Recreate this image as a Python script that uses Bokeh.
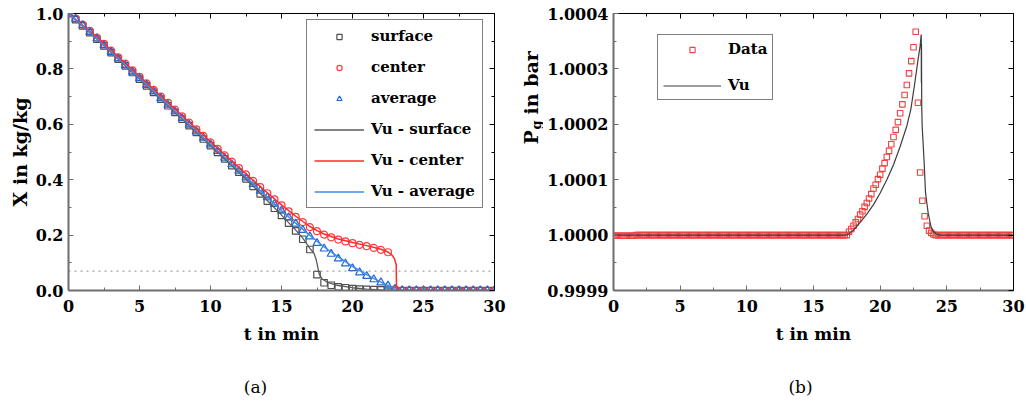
import math
from bokeh.plotting import figure
from bokeh.layouts import row, column
from bokeh.models import (LinearAxis, FixedTicker, PrintfTickFormatter, Label, Span,
                          Legend, LegendItem, Range1d)
from bokeh.embed import file_html
from bokeh.resources import INLINE

FONT = "DejaVu Serif"

# ---------------- data: panel (a) ----------------
X_surface = [1.000, 0.978, 0.955, 0.931, 0.907, 0.883, 0.859, 0.835, 0.811, 0.787,
             0.763, 0.739, 0.715, 0.691, 0.667, 0.643, 0.619, 0.595, 0.571, 0.547,
             0.523, 0.499, 0.475, 0.451, 0.427, 0.403, 0.376, 0.349, 0.323, 0.297,
             0.271, 0.243, 0.215, 0.185, 0.148, 0.057, 0.028, 0.019, 0.013, 0.010,
             0.007, 0.005, 0.004, 0.003, 0.002, 0.001, 0.000, 0.000, 0.000, 0.000,
             0.000, 0.000, 0.000, 0.000, 0.000, 0.000, 0.000, 0.000, 0.000, 0.000,
             0.000]
X_center = [1.000, 0.982, 0.960, 0.937, 0.913, 0.890, 0.866, 0.842, 0.819, 0.795,
            0.771, 0.748, 0.724, 0.700, 0.677, 0.653, 0.629, 0.606, 0.582, 0.558,
            0.535, 0.511, 0.488, 0.465, 0.442, 0.419, 0.396, 0.373, 0.351, 0.329,
            0.307, 0.286, 0.266, 0.247, 0.229, 0.214, 0.202, 0.192, 0.184, 0.177,
            0.171, 0.165, 0.160, 0.154, 0.147, 0.138, 0.004, 0.000, 0.000, 0.000,
            0.000, 0.000, 0.000, 0.000, 0.000, 0.000, 0.000, 0.000, 0.000, 0.000,
            0.000]
X_average = [1.000, 0.980, 0.957, 0.933, 0.909, 0.885, 0.861, 0.837, 0.813, 0.789,
             0.766, 0.742, 0.718, 0.694, 0.670, 0.646, 0.622, 0.598, 0.574, 0.551,
             0.527, 0.503, 0.479, 0.455, 0.432, 0.408, 0.384, 0.360, 0.336, 0.312,
             0.288, 0.264, 0.241, 0.218, 0.195, 0.171, 0.151, 0.132, 0.115, 0.097,
             0.080, 0.065, 0.052, 0.040, 0.029, 0.017, 0.006, 0.000, 0.000, 0.000,
             0.000, 0.000, 0.000, 0.000, 0.000, 0.000, 0.000, 0.000, 0.000, 0.000,
             0.000]
t_meas = [i * 0.5 for i in range(len(X_surface))]   # sampling grid, every 0.5 min

t_vu_surface = [0, 2, 4, 6, 8, 10, 12, 13, 14, 15, 16, 16.5, 17, 17.3, 17.45, 17.55,
                17.65, 17.85, 18.3, 19, 20, 21, 22, 23, 30]
X_vu_surface = [1.0, 0.907, 0.811, 0.715, 0.619, 0.523, 0.427, 0.377, 0.325, 0.272,
                0.218, 0.189, 0.152, 0.133, 0.110, 0.085, 0.060, 0.042, 0.028, 0.018,
                0.010, 0.005, 0.002, 0.0, 0.0]

t_vu_center = [0, 2, 4, 6, 8, 10, 12, 13, 14, 15, 16, 17, 17.5, 18, 19, 20, 21, 22,
               22.5, 22.8, 22.95, 23.05, 23.08, 23.1, 30]
X_vu_center = [1.0, 0.915, 0.820, 0.725, 0.631, 0.537, 0.444, 0.398, 0.353, 0.309,
               0.268, 0.231, 0.216, 0.204, 0.186, 0.173, 0.162, 0.149, 0.139, 0.127,
               0.115, 0.098, 0.092, 0.0, 0.0]

t_vu_average = [0, 2, 4, 6, 8, 10, 12, 13, 14, 15, 16, 17, 18, 19, 20, 21, 22, 22.5,
                23, 23.2, 30]
X_vu_average = [1.0, 0.909, 0.814, 0.719, 0.623, 0.528, 0.433, 0.385, 0.337, 0.289,
                0.243, 0.199, 0.157, 0.121, 0.087, 0.057, 0.030, 0.018, 0.005, 0.0, 0.0]

X_eq = 0.07          # dotted reference line

x_ticks = [0, 5, 10, 15, 20, 25, 30]
x_minor = [2.5, 7.5, 12.5, 17.5, 22.5, 27.5]
ya_ticks = [0.0, 0.2, 0.4, 0.6, 0.8, 1.0]
ya_minor = [0.1, 0.3, 0.5, 0.7, 0.9]

# ---------------- data: panel (b) ----------------
Pg_data = [
    0.9999987, 0.9999987, 0.9999987, 0.9999987, 0.9999987, 0.9999987, 0.9999987, 0.9999987, 0.9999987, 0.9999987,
    1.0, 1.0, 1.0, 1.0, 1.0, 1.0, 1.0, 1.0, 1.0, 1.0,
    1.0, 1.0, 1.0, 1.0, 1.0, 1.0, 1.0, 1.0, 1.0, 1.0,
    1.0, 1.0, 1.0, 1.0, 1.0, 1.0, 1.0, 1.0, 1.0, 1.0,
    1.0, 1.0, 1.0, 1.0, 1.0, 1.0, 1.0, 1.0, 1.0, 1.0,
    1.0, 1.0, 1.0, 1.0, 1.0, 1.0, 1.0, 1.0, 1.0, 1.0,
    1.0, 1.0, 1.0, 1.0, 1.0, 1.0, 1.0, 1.0, 1.0, 1.0,
    1.0, 1.0, 1.0, 1.0, 1.0, 1.0, 1.0, 1.0, 1.0, 1.0,
    1.0, 1.0, 1.0, 1.0, 1.0, 1.0, 1.0, 1.0, 1.0, 1.0,
    1.0, 1.0, 1.0, 1.0, 1.0, 1.0, 1.0, 1.0, 1.0, 1.0,
    1.0, 1.0, 1.0, 1.0, 1.0,
    1.0, 1.000006, 1.000011, 1.000017, 1.000023, 1.000029, 1.000037, 1.000043, 1.000051, 1.000058,
    1.000066, 1.000074, 1.000084, 1.000091, 1.000101, 1.000109, 1.000120, 1.000130, 1.000141, 1.000152,
    1.000164, 1.000177, 1.000190, 1.000204, 1.000220, 1.000236, 1.000253, 1.000271, 1.000292, 1.000314,
    1.000339, 1.000367, 1.000239, 1.000113, 1.000062, 1.000034, 1.000017, 1.000008, 1.000004, 1.000001,
    1.0, 1.0, 1.0, 1.0, 1.0, 1.0, 1.0, 1.0, 1.0, 1.0,
    1.0, 1.0, 1.0, 1.0, 1.0, 1.0, 1.0, 1.0, 1.0, 1.0,
    1.0, 1.0, 1.0, 1.0, 1.0, 1.0, 1.0, 1.0, 1.0, 1.0,
    1.0, 1.0, 1.0, 1.0, 1.0, 1.0,
]
t_data = [i / 6.0 for i in range(len(Pg_data))]    # sampling grid, every 10 s

t_vu = [0, 17.5, 17.75, 18.0, 18.25, 18.5, 19.0, 19.5, 20.0, 20.5, 21.0, 21.5, 22.0,
        22.3, 22.6, 22.85, 23.0, 23.05, 23.08, 23.09, 23.1, 23.11, 23.12, 23.15,
        23.2, 23.3, 23.4, 23.5, 23.6, 23.8, 24.0, 24.2, 24.5, 30]
P_vu = [1.0, 1.0, 1.000004, 1.000009, 1.000016, 1.000023, 1.000038, 1.000055, 1.000076,
        1.000100, 1.000127, 1.000160, 1.000197, 1.000227, 1.000275, 1.000318, 1.000342,
        1.000355, 1.000362, 1.000275, 1.000345, 1.000270, 1.000230, 1.000197, 1.000175,
        1.000130, 1.000077, 1.000058, 1.000040, 1.000016, 1.000006, 1.000002, 1.0, 1.0]

yb_ticks = [0.9999, 1.0, 1.0001, 1.0002, 1.0003, 1.0004]
yb_minor = [0.99995, 1.00005, 1.00015, 1.00025, 1.00035]

TOP_H = 350      # height of the row holding both panels
CAP_H = 60       # height of the caption strip


# ---------------- helpers ----------------
def style_axis(ax, color, width, labels, ticks, minor, fmt):
    ax.ticker = FixedTicker(ticks=ticks, minor_ticks=minor)
    ax.formatter = PrintfTickFormatter(format=fmt)
    ax.axis_line_color = color
    ax.axis_line_width = width
    ax.major_tick_line_color = color
    ax.minor_tick_line_color = color
    ax.major_tick_line_width = 1
    ax.minor_tick_line_width = 1
    ax.major_tick_in = 5
    ax.major_tick_out = 0
    ax.minor_tick_in = 3
    ax.minor_tick_out = 0
    ax.major_label_text_font = FONT
    ax.major_label_text_font_style = "bold"
    if labels:
        ax.major_label_text_font_size = "16px"
        ax.major_label_text_color = "black"
    else:
        ax.major_label_text_font_size = "1px"
        ax.major_label_text_color = None
        ax.major_label_standoff = 0


def make_fig(width, xr, yr, left, right, top, yticks, yminor, yfmt):
    p = figure(width=width, height=TOP_H, x_range=xr, y_range=yr,
               output_backend="svg", toolbar_location=None,
               x_axis_location=None, y_axis_location=None,
               min_border_left=left, min_border_right=right,
               min_border_top=top, min_border_bottom=TOP_H - 290)
    p.xgrid.visible = False
    p.ygrid.visible = False
    p.outline_line_color = None
    p.background_fill_color = "white"
    p.border_fill_color = "white"
    bottom_ax = LinearAxis()
    left_ax = LinearAxis()
    top_ax = LinearAxis()
    right_ax = LinearAxis()
    p.add_layout(bottom_ax, "below")
    p.add_layout(left_ax, "left")
    p.add_layout(top_ax, "above")
    p.add_layout(right_ax, "right")
    style_axis(bottom_ax, "#6e6e6e", 2, True, x_ticks, x_minor, "%d")
    style_axis(left_ax, "#6e6e6e", 2, True, yticks, yminor, yfmt)
    style_axis(top_ax, "black", 1, False, x_ticks, x_minor, "%d")
    style_axis(right_ax, "black", 1, False, yticks, yminor, yfmt)
    bottom_ax.major_label_standoff = 9
    left_ax.major_label_standoff = 5
    bottom_ax.axis_label = "t in min"
    bottom_ax.axis_label_standoff = 9
    for ax in (bottom_ax, left_ax):
        ax.axis_label_text_font = FONT
        ax.axis_label_text_font_style = "bold"
        ax.axis_label_text_font_size = "17px"
        ax.axis_label_text_color = "black"
    return p, bottom_ax, left_ax


def blank_fig(w, h):
    f = figure(width=w, height=h, x_range=Range1d(0, w), y_range=Range1d(0, h),
               output_backend="svg", toolbar_location=None, min_border=0,
               x_axis_location=None, y_axis_location=None)
    f.xgrid.visible = False
    f.ygrid.visible = False
    f.outline_line_color = None
    f.background_fill_color = "white"
    f.border_fill_color = "white"
    return f


def style_legend(leg, loc, gw, pad, spacing):
    leg.location = loc
    leg.label_text_font = FONT
    leg.label_text_font_style = "bold"
    leg.label_text_font_size = "15px"
    leg.label_text_color = "black"
    leg.glyph_width = gw
    leg.glyph_height = 13
    leg.label_height = 18
    leg.label_standoff = 7
    leg.padding = pad
    leg.spacing = spacing
    leg.margin = 0
    leg.border_line_color = "black"
    leg.border_line_width = 1
    leg.background_fill_color = "white"
    leg.background_fill_alpha = 1.0


# ---------------- panel (a) ----------------
p1, p1_bottom, p1_left = make_fig(513, Range1d(0, 30), Range1d(0, 1.0), 68, 513 - 494, 12,
                                  ya_ticks, ya_minor, "%.1f")
p1_left.axis_label = "X in kg/kg"
p1_left.axis_label_text_font_size = "19px"
p1_left.axis_label_standoff = 2

p1.add_layout(Span(location=X_eq, dimension="width", line_color="#8a8a8a",
                   line_dash="2 4", line_width=1))

r_sq = p1.scatter(t_meas, X_surface, marker="square", size=6.5, fill_color=None,
                  line_color="#4d4d4d", line_width=1.2)
r_ci = p1.scatter(t_meas, X_center, marker="circle", size=7, fill_color=None,
                  line_color="#ff3b3b", line_width=1.2)
r_tr = p1.scatter(t_meas, X_average, marker="triangle", size=8, fill_color=None,
                  line_color="#1f66d6", line_width=1.2)
l_s = p1.line(t_vu_surface, X_vu_surface, line_color="#5a5a5a", line_width=1.3)
l_c = p1.line(t_vu_center, X_vu_center, line_color="#ff2a2a", line_width=1.5)
l_a = p1.line(t_vu_average, X_vu_average, line_color="#3f8ae6", line_width=1.5)

leg1 = Legend(items=[
    LegendItem(label="surface", renderers=[r_sq]),
    LegendItem(label="center", renderers=[r_ci]),
    LegendItem(label="average", renderers=[r_tr]),
    LegendItem(label="Vu - surface", renderers=[l_s]),
    LegendItem(label="Vu - center", renderers=[l_c]),
    LegendItem(label="Vu - average", renderers=[l_a]),
])
style_legend(leg1, (238, 82), 50, 7, 13)
p1.add_layout(leg1)

# ---------------- strip holding the rotated P_g label ----------------
ylab = blank_fig(30, TOP_H)
lab_kw = dict(x_units="screen", y_units="screen", angle=math.pi / 2,
              text_font=FONT, text_font_style="bold", text_color="black",
              text_align="left", text_baseline="middle")
ylab.add_layout(Label(x=17, y=TOP_H - 204, text="P", text_font_size="19px", **lab_kw))
ylab.add_layout(Label(x=23, y=TOP_H - 189, text="g", text_font_size="13px", **lab_kw))
ylab.add_layout(Label(x=17, y=TOP_H - 174, text="in bar", text_font_size="19px", **lab_kw))

# ---------------- panel (b) ----------------
p2, p2_bottom, p2_left = make_fig(483, Range1d(0, 30), Range1d(0.9999, 1.0004), 70, 13, 13,
                                  yb_ticks, yb_minor, "%.4f")

r_data = p2.scatter(t_data, Pg_data, marker="square", size=5.5, fill_color=None,
                    line_color="#f04040", line_width=1.1)
r_vu = p2.line(t_vu, P_vu, line_color="#3c3c3c", line_width=1.2)

leg2 = Legend(items=[
    LegendItem(label="Data", renderers=[r_data]),
    LegendItem(label="Vu", renderers=[r_vu]),
])
style_legend(leg2, (44, 190), 58, 5, 18)
p2.add_layout(leg2)

# ---------------- caption strip ----------------
caps = blank_fig(1026, CAP_H)
cap_kw = dict(x_units="screen", y_units="screen", text_font=FONT, text_font_size="17px",
              text_align="center", text_baseline="middle", text_color="black")
caps.add_layout(Label(x=255, y=CAP_H - 36, text="(a)", **cap_kw))
caps.add_layout(Label(x=800, y=CAP_H - 36, text="(b)", **cap_kw))

layout = column(row(p1, ylab, p2), caps)
open("out.html", "w").write(file_html(layout, INLINE))
